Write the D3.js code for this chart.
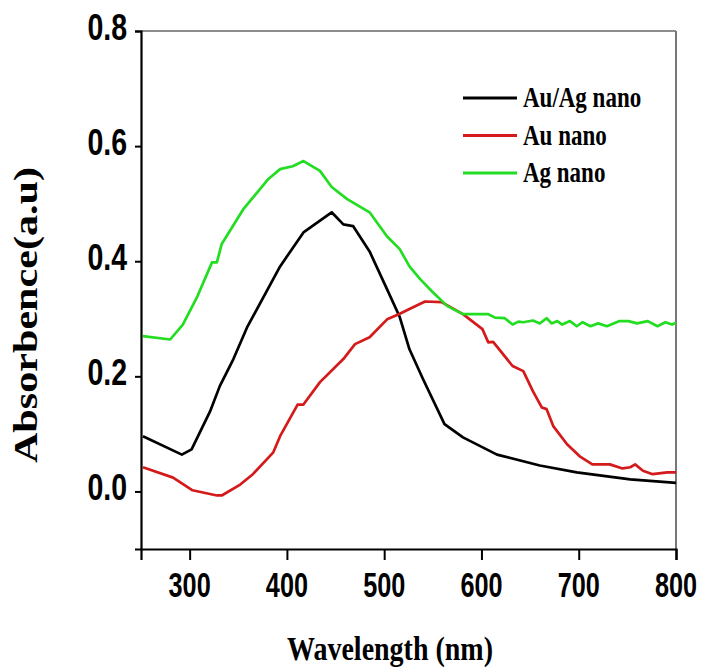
<!DOCTYPE html>
<html>
<head>
<meta charset="utf-8">
<script src="https://cdn.jsdelivr.net/npm/d3@7"></script>
<style>
  html, body { margin: 0; padding: 0; background: #fff; }
  svg { display: block; }
  .tick-label { font-family: "Liberation Sans", Arial, sans-serif; font-weight: bold; fill: #000; }
  .serif { font-family: "Liberation Serif", "Times New Roman", serif; font-weight: bold; fill: #000; }
</style>
</head>
<body>
<svg id="chart"></svg>
<script>
// series: [wavelength nm, absorbance]
const auAgData = [
  [252, 0.096], [292, 0.064], [302, 0.073], [321, 0.139], [331, 0.183], [345, 0.23],
  [359, 0.285], [393, 0.391], [417, 0.45], [446, 0.485], [458, 0.464], [468, 0.461],
  [485, 0.417], [503, 0.351], [516, 0.303], [526, 0.247], [540, 0.195], [562, 0.117],
  [581, 0.094], [616, 0.064], [660, 0.045], [698, 0.033], [753, 0.021], [800, 0.015]
];
const auData = [
  [252, 0.042], [283, 0.024], [303, 0.002], [328, -0.007], [333, -0.007], [352, 0.012],
  [365, 0.03], [386, 0.068], [393, 0.096], [411, 0.151], [417, 0.151], [434, 0.19],
  [458, 0.23], [470, 0.256], [485, 0.268], [503, 0.299], [515, 0.308], [526, 0.317],
  [542, 0.33], [559, 0.329], [581, 0.308], [601, 0.282], [607, 0.259], [612, 0.26],
  [632, 0.218], [643, 0.209], [653, 0.174], [662, 0.146], [667, 0.143], [674, 0.113],
  [688, 0.082], [701, 0.061], [714, 0.047], [732, 0.047], [745, 0.04], [753, 0.042],
  [758, 0.047], [766, 0.036], [776, 0.03], [791, 0.033], [800, 0.033]
];
const agData = [
  [252, 0.27], [280, 0.264], [293, 0.29], [308, 0.339], [323, 0.398], [328, 0.398],
  [333, 0.43], [355, 0.49], [381, 0.543], [393, 0.56], [406, 0.565], [417, 0.574],
  [434, 0.557], [446, 0.529], [462, 0.508], [485, 0.485], [503, 0.443], [516, 0.421],
  [526, 0.391], [537, 0.369], [550, 0.346], [565, 0.322], [581, 0.308], [598, 0.308],
  [607, 0.308], [614, 0.302], [624, 0.301], [632, 0.29], [638, 0.295], [643, 0.294],
  [653, 0.297], [660, 0.292], [667, 0.301], [672, 0.292], [678, 0.296], [683, 0.29],
  [691, 0.296], [698, 0.287], [704, 0.294], [712, 0.287], [720, 0.292], [729, 0.287],
  [742, 0.296], [751, 0.296], [760, 0.292], [771, 0.296], [781, 0.287], [789, 0.294],
  [796, 0.29], [800, 0.293]
];

const seriesNames  = ['Au/Ag nano', 'Au nano', 'Ag nano'];
const seriesColors = ['#000000', '#d41a1a', '#22dd22'];
const seriesData   = [auAgData, auData, agData];

const xTicks = [300, 400, 500, 600, 700, 800];
const xMinorTicks = [250, 350, 450, 550, 650, 750];
const yTicks = [0.0, 0.2, 0.4, 0.6, 0.8];
const yMinorTicks = [-0.1, 0.1, 0.3, 0.5, 0.7];

const width  = 702;
const height = 667;
const stretch = 1.24; // the picture is a bit taller than wide

const svg = d3.select('#chart').attr('width', width).attr('height', height);

const x = d3.scaleLinear().domain([250, 800]).range([141, 676]);
const y = d3.scaleLinear().domain([-0.1, 0.8]).range([549, 31]);

// frame top and right (grey, thinner)
svg.append('line')
  .attr('x1', x(250)).attr('x2', x(800)).attr('y1', y(0.8)).attr('y2', y(0.8))
  .attr('stroke', '#666').attr('stroke-width', 1.5);
svg.append('line')
  .attr('x1', x(800)).attr('x2', x(800)).attr('y1', y(0.8)).attr('y2', y(-0.1))
  .attr('stroke', '#777').attr('stroke-width', 2);

// lines
const line = d3.line().x(d => x(d[0])).y(d => y(d[1]));
const linesG = svg.append('g');
seriesData.forEach((data, i) => {
  linesG.append('path')
    .datum(data)
    .attr('d', line)
    .attr('fill', 'none')
    .attr('stroke', seriesColors[i])
    .attr('stroke-width', 2.7)
    .attr('stroke-linejoin', 'round');
});

// x axis
const xAxisG = svg.append('g').attr('transform', `translate(0,${y(-0.1)})`);
xAxisG.call(d3.axisBottom(x).tickValues(xMinorTicks).tickSize(6).tickFormat(''));
xAxisG.call(d3.axisBottom(x).tickValues(xTicks).tickSize(11).tickFormat(''));
xAxisG.selectAll('.domain').attr('stroke', '#000').attr('stroke-width', 2.2);
xAxisG.selectAll('.tick line').attr('stroke', '#000').attr('stroke-width', 2);

xAxisG.selectAll('.xlab')
  .data(xTicks)
  .join('text')
  .attr('class', 'tick-label xlab')
  .attr('text-anchor', 'middle')
  .attr('font-size', 29)
  .attr('transform', d => `translate(${x(d)},48) scale(0.87,${stretch})`)
  .text(d => d);

// y axis
const yAxisG = svg.append('g').attr('transform', `translate(${x(250)},0)`);
yAxisG.call(d3.axisLeft(y).tickValues(yMinorTicks).tickSize(3).tickFormat(''));
yAxisG.call(d3.axisLeft(y).tickValues(yTicks).tickSize(6).tickFormat(''));
yAxisG.selectAll('.domain').attr('stroke', '#000').attr('stroke-width', 2.2);
yAxisG.selectAll('.tick line').attr('stroke', '#000').attr('stroke-width', 2);

yAxisG.selectAll('.ylab')
  .data(yTicks)
  .join('text')
  .attr('class', 'tick-label ylab')
  .attr('text-anchor', 'end')
  .attr('font-size', 30)
  .attr('transform', d => `translate(-14,${y(d) + 9}) scale(0.95,${stretch})`)
  .text(d => d.toFixed(1));

// axis titles
svg.append('text')
  .attr('class', 'serif')
  .attr('text-anchor', 'middle')
  .attr('font-size', 28)
  .attr('transform', `translate(390,660) scale(1,${stretch})`)
  .text('Wavelength (nm)');

svg.append('text')
  .attr('class', 'serif')
  .attr('text-anchor', 'middle')
  .attr('font-size', 34)
  .attr('transform', `translate(37,315) scale(1,${stretch}) rotate(-90)`)
  .text('Absorbence(a.u)');

// legend
const legend = svg.append('g').attr('transform', 'translate(463,98)');
seriesNames.forEach((name, i) => {
  const row = legend.append('g').attr('transform', `translate(0,${i * 37.5})`);
  row.append('line')
    .attr('x1', 0).attr('x2', 54).attr('y1', 0).attr('y2', 0)
    .attr('stroke', seriesColors[i]).attr('stroke-width', 3);
  row.append('text')
    .attr('class', 'serif')
    .attr('font-size', 23)
    .attr('transform', `translate(60,9) scale(1,${stretch})`)
    .text(name);
});
</script>
</body>
</html>
